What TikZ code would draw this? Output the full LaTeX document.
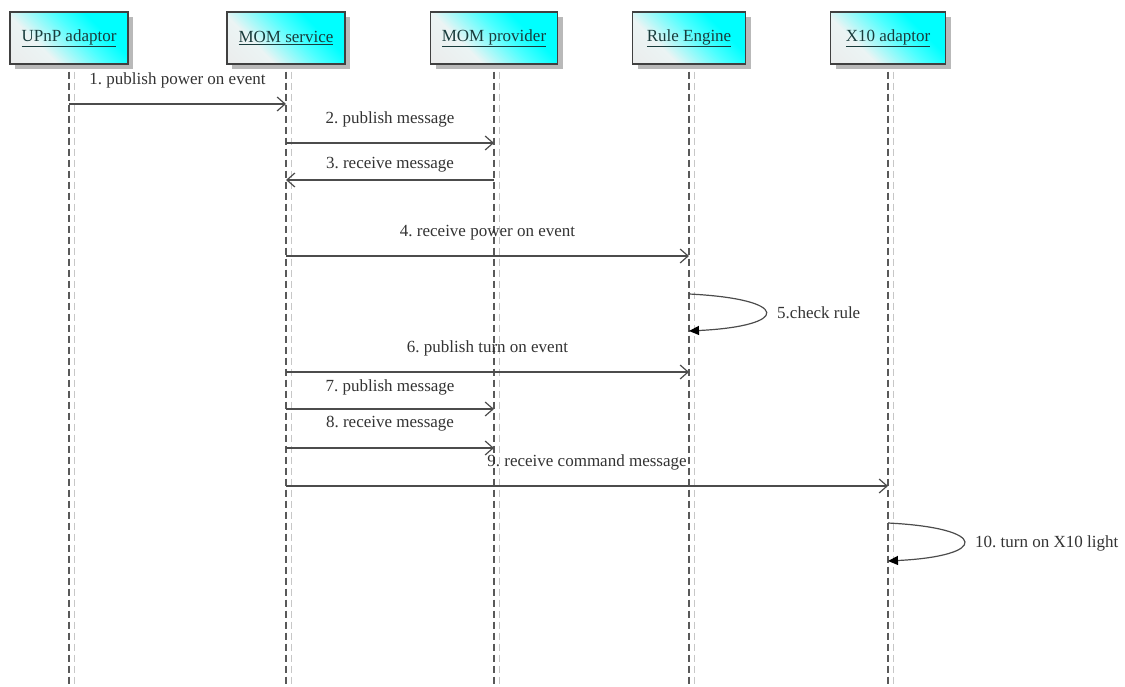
\documentclass[tikz,border=0pt]{standalone}
\usepackage{fontspec}
\setmainfont{Liberation Serif}
\usetikzlibrary{arrows.meta,shadows}
\frenchspacing
% diagonal fill of the participant boxes: light grey turning to cyan in the upper right
\pgfdeclareverticalshading{actorshade}{100bp}{
  color(0bp)=(gray!24); color(25bp)=(gray!16); color(40bp)=(cyan!28!gray!12);
  color(53bp)=(cyan!70!white); color(61bp)=(cyan); color(100bp)=(cyan)}
\begin{document}
\begin{tikzpicture}[x=1pt,y=-1pt,
  actor/.style={draw=black!75, line width=1.2pt, minimum height=52pt, inner sep=0pt, fill=white,
    path picture={
      \shade[shading=actorshade, shading angle=-45]
        ([shift={(-66pt,-66pt)}]path picture bounding box.center) rectangle
        ([shift={(66pt,66pt)}]path picture bounding box.center);},
    drop shadow={shadow xshift=5pt, shadow yshift=-5pt, fill=gray!55, opacity=1},
    font=\fontsize{17}{20}\selectfont, text=black!70!teal!90},
  life/.style={black!65, line width=1.3pt, dash pattern=on 7pt off 4pt},
  lifeshade/.style={black!22, line width=1pt, dash pattern=on 7pt off 4pt},
  msg/.style={black!70, line width=1.2pt, -{Straight Barb[length=8pt,width=14pt,line width=1.2pt]}},
  selfmsg/.style={black!70, line width=1.2pt, -{Triangle[length=10pt,width=9pt,fill=black,black]}},
  lbl/.style={font=\fontsize{17}{20}\selectfont, text=black!80, inner sep=0pt}
]
\useasboundingbox (0,0) rectangle (1125,687);

% participants
\node[actor, minimum width=118pt] (upnp) at (69,38)  {\underline{UPnP adaptor}};
\node[actor, minimum width=118pt] (mos)  at (286,38) {\underline{MOM service}};
\node[actor, minimum width=127pt] (mop)  at (494,38) {\underline{MOM provider}};
\node[actor, minimum width=113pt] (rule) at (689,38) {\underline{Rule Engine}};
\node[actor, minimum width=115pt] (x10)  at (888,38) {\underline{X10 adaptor}};

% lifelines
\foreach \n in {upnp,mos,mop,rule,x10}{
  \coordinate (\n-top) at ([yshift=-7pt]\n.south);
  \coordinate (\n-end) at (\n.south |- 0,687);
  \draw[lifeshade] ([xshift=5pt]\n-top) -- ([xshift=5pt]\n-end);
  \draw[life] (\n-top) -- (\n-end);
}

% messages
\draw[msg] (upnp |- 0,104) -- (mos |- 0,104)
  node[lbl, midway, yshift=24pt] {1. publish power on event};
\draw[msg] (mos |- 0,143) -- (mop |- 0,143)
  node[lbl, midway, yshift=24pt] {2. publish message};
\draw[msg] (mop |- 0,180) -- (mos |- 0,180)
  node[lbl, midway, yshift=15pt] {3. receive message};
\draw[msg] (mos |- 0,256) -- (rule |- 0,256)
  node[lbl, midway, yshift=23pt] {4. receive power on event};

\draw[selfmsg] (rule |- 0,294) .. controls (791,299) and (791,326) .. (rule |- 0,331);
\node[lbl, anchor=west] (l5) at (777,313) {5.check rule};

\draw[msg] (mos |- 0,372) -- (rule |- 0,372)
  node[lbl, midway, yshift=24pt] {6. publish turn on event};
\draw[msg] (mos |- 0,409) -- (mop |- 0,409)
  node[lbl, midway, yshift=22pt] {7. publish message};
\draw[msg] (mos |- 0,448) -- (mop |- 0,448)
  node[lbl, midway, yshift=24pt] {8. receive message};
\draw[msg] (mos |- 0,486) -- (x10 |- 0,486)
  node[lbl, midway, yshift=24pt] {9. receive command message};

\draw[selfmsg] (x10 |- 0,523) .. controls (989,528) and (989,556) .. (x10 |- 0,561);
\node[lbl, anchor=west] (l10) at (975,543) {10. turn on X10 light};
\end{tikzpicture}
\end{document}
